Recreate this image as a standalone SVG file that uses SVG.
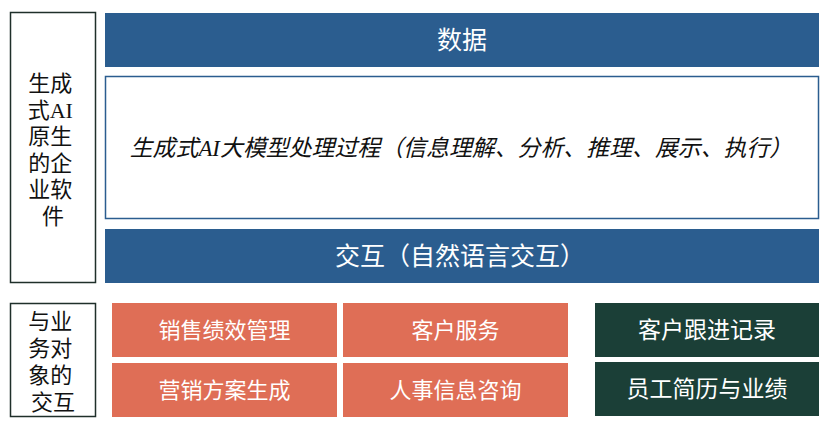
<svg xmlns="http://www.w3.org/2000/svg" width="832" height="428" viewBox="0 0 832 428">
<style>
.lbl{fill:#ffffff;stroke:#1f2f2a;stroke-width:1.5}
.blue{fill:#2B5D8F}
.org{fill:#DF6E56}
.grn{fill:#1B3F37}
.t{font-family:"Liberation Serif","Noto Sans CJK SC",serif;text-anchor:middle}
.w{fill:#ffffff}
.k{fill:#111111}
</style>
<rect width="832" height="428" fill="#ffffff"/>
<g id="label-software">
<rect class="lbl" x="10.5" y="12.5" width="85" height="270"/>
<text class="t k" font-size="22" x="53">
<tspan x="53" y="91">生成</tspan>
<tspan x="53" y="117.5">式AI</tspan>
<tspan x="53" y="144">原生</tspan>
<tspan x="53" y="170.5">的企</tspan>
<tspan x="53" y="197">业软</tspan>
<tspan x="53" y="223.5">件</tspan>
</text>
</g>
<g id="label-interaction">
<rect class="lbl" x="10.5" y="303.5" width="85" height="113"/>
<text class="t k" font-size="22">
<tspan x="53" y="329">与业</tspan>
<tspan x="53" y="356">务对</tspan>
<tspan x="53" y="383">象的</tspan>
<tspan x="53" y="410">交互</tspan>
</text>
</g>
<g id="data">
<rect class="blue" x="105" y="13" width="714" height="54"/>
<text class="t w" font-size="25" x="462" y="49">数据</text>
</g>
<g id="process">
<rect x="105.5" y="76.5" width="713" height="142" fill="#ffffff" stroke="#2B5D8F" stroke-width="1.5"/>
<text class="t k" font-size="22.9" font-style="italic" x="461" y="156">生成式AI大模型处理过程（信息理解、分析、推理、展示、执行）</text>
</g>
<g id="nl-interaction">
<rect class="blue" x="105" y="229" width="714" height="54"/>
<text class="t w" font-size="25" x="460" y="265">交互（自然语言交互）</text>
</g>
<g id="sales-perf">
<rect class="org" x="112" y="303" width="225" height="54"/>
<text class="t w" font-size="22" x="224.5" y="338">销售绩效管理</text>
</g>
<g id="customer-service">
<rect class="org" x="343" y="303" width="225" height="54"/>
<text class="t w" font-size="22" x="455.5" y="338">客户服务</text>
</g>
<g id="marketing">
<rect class="org" x="112" y="363" width="225" height="54"/>
<text class="t w" font-size="22" x="224.5" y="398">营销方案生成</text>
</g>
<g id="hr-info">
<rect class="org" x="343" y="363" width="225" height="54"/>
<text class="t w" font-size="22" x="455.5" y="398">人事信息咨询</text>
</g>
<g id="followup">
<rect class="grn" x="595" y="303" width="224" height="54"/>
<text class="t w" font-size="23" x="707" y="338">客户跟进记录</text>
</g>
<g id="employee">
<rect class="grn" x="595" y="362" width="224" height="54"/>
<text class="t w" font-size="23" x="707" y="397">员工简历与业绩</text>
</g>
<g id="connectors"></g>
</svg>
